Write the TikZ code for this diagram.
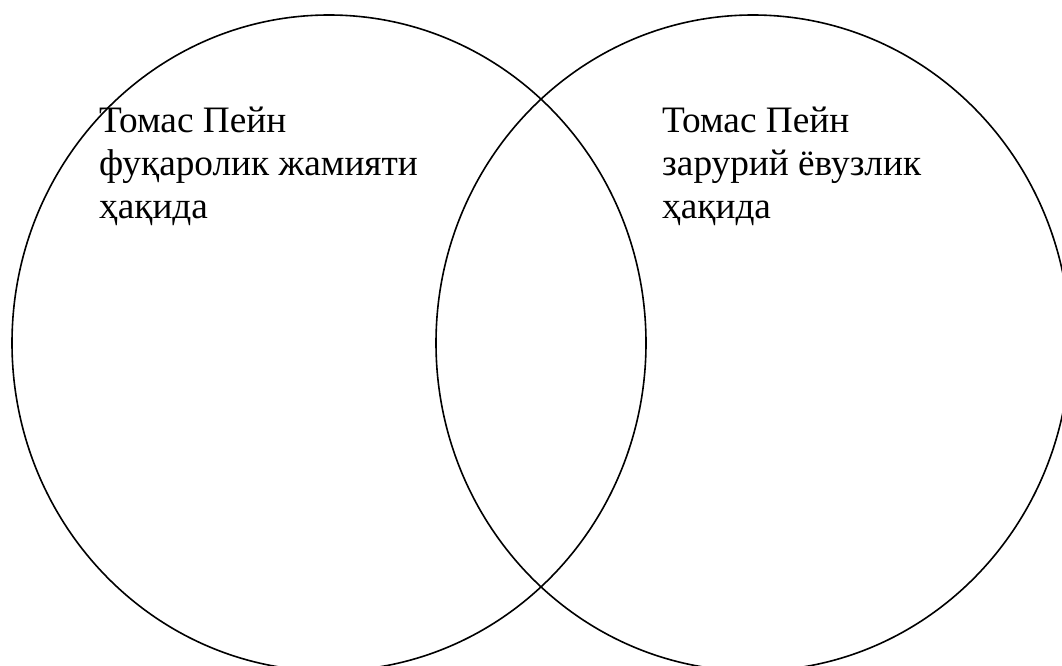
\documentclass[tikz,border=0pt]{standalone}
\usepackage{fontspec}
\setmainfont{Liberation Serif}
\usetikzlibrary{shapes.geometric}
\begin{document}
\begin{tikzpicture}[x=1pt,y=-1pt,
  venn/.style={draw=black,line width=1.6pt,ellipse,inner sep=0pt,minimum width=634pt,minimum height=656pt},
  label/.style={anchor=base west,align=left,inner sep=0pt,font=\fontsize{37.3}{43}\selectfont}]
\useasboundingbox (0,0) rectangle (1062,666);
\clip (0,0) rectangle (1062,666);
\fill[white] (0,0) rectangle (1062,666);
\node[venn] (left) at (329,343) {};
\node[venn] (right) at (753,343) {};
\node[label] (lt) at (99,218) {Томас Пейн\\фуқаролик жамияти\\ҳақида};
\node[label] (rt) at (662,218) {Томас Пейн\\зарурий ёвузлик\\ҳақида};
\end{tikzpicture}
\end{document}
